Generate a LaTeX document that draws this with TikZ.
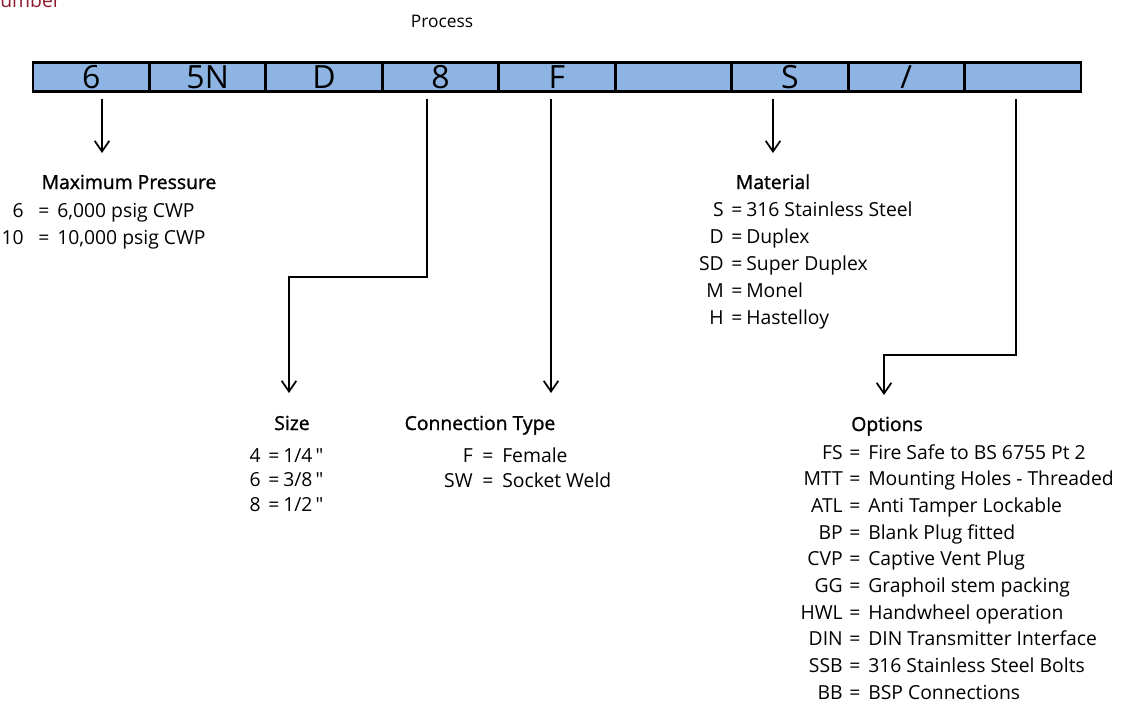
\documentclass[tikz,border=0pt]{standalone}
\usepackage{fontspec}
\setmainfont{Open Sans}
\newfontfamily\headfont[FakeBold=1.2]{Open Sans}
\newfontfamily\qfont{Open Sans}
\usetikzlibrary{arrows.meta}
\definecolor{barblue}{RGB}{141,180,226}
\definecolor{numred}{RGB}{139,26,46}
\newcommand\inch{{\qfont\char34}}
\begin{document}
\begin{tikzpicture}[x=0.75pt,y=-0.75pt,
  cell/.style={draw=black,line width=2.2pt,fill=barblue,minimum width=87.33pt,
    minimum height=21.75pt,inner sep=0pt,text height=17pt,text depth=0pt,
    font=\fontsize{24}{24}\selectfont},
  conn/.style={line width=1.3pt,-{Straight Barb[length=8pt,width=11pt]}},
  head/.style={inner sep=0pt,anchor=base,font=\fontsize{14.5}{17}\headfont},
  txt/.style={inner sep=0pt,font=\fontsize{14.5}{17}\selectfont},
  code/.style={txt,anchor=base east},
  eq/.style={txt,anchor=base},
  val/.style={txt,anchor=base west}]
\useasboundingbox (0,0) rectangle (1121,704);

% title fragments
\node[inner sep=0pt,anchor=base east,text=numred,font=\fontsize{14.5}{17}\selectfont] (number) at (61,7) {Number};
\node[inner sep=0pt,font=\fontsize{13}{15}\selectfont] (process) at (442,21) {Process};

% code bar
\foreach \t [count=\i] in {6,5N,D,8,F,{},S,/,{}}
  \node[cell] (c\i) at ({33+116.44*(\i-0.5)},77) {\t};

% headings (baselines)
\node[head] (hpress) at (129,189) {Maximum Pressure};
\node[head] (hmat) at (773,189) {Material};
\node[head] (hsize) at (292,430) {Size};
\node[head] (hconn) at (480,430) {Connection Type};
\node[head] (hopt) at (887,431) {Options};

% maximum pressure rows
\foreach \c/\v [count=\i] in {6/{6,000 psig CWP},10/{10,000 psig CWP}}{
  \node[code] (pc\i) at (24,{217+27*(\i-1)}) {\c};
  \node[eq] (pe\i) at (44,{217+27*(\i-1)}) {=};
  \node[val] (pv\i) at (57,{217+27*(\i-1)}) {\v};
}
% material rows
\foreach \c/\v [count=\i] in {S/316 Stainless Steel,D/Duplex,SD/Super Duplex,M/Monel,H\hspace{5.5pt}/Hastelloy}{
  \node[code] (mc\i) at (724,{216+27*(\i-1)}) {\c};
  \node[eq] (me\i) at (737,{216+27*(\i-1)}) {=};
  \node[val] (mv\i) at (746,{216+27*(\i-1)}) {\v};
}
% size rows
\foreach \c/\v [count=\i] in {4/{1/4\,\inch},6/{3/8\,\inch},8/{1/2\,\inch}}{
  \node[code] (sc\i) at (261,{462+24.5*(\i-1)}) {\c};
  \node[eq] (se\i) at (274,{462+24.5*(\i-1)}) {=};
  \node[val] (sv\i) at (283,{462+24.5*(\i-1)}) {\v};
}
% connection rows
\foreach \c/\v [count=\i] in {F/Female,SW/Socket Weld}{
  \node[code] (cc\i) at (473,{462+25*(\i-1)}) {\c};
  \node[eq] (ce\i) at (488,{462+25*(\i-1)}) {=};
  \node[val] (cv\i) at (502,{462+25*(\i-1)}) {\v};
}
% option rows
\foreach \c/\v [count=\i] in {FS/Fire Safe to BS 6755 Pt 2,MTT/Mounting Holes - Threaded,
  ATL/Anti Tamper Lockable,BP/Blank Plug fitted,CVP/Captive Vent Plug,
  GG/Graphoil stem packing,HWL/Handwheel operation,DIN/DIN Transmitter Interface,
  SSB/316 Stainless Steel Bolts,BB/BSP Connections}{
  \node[code] (oc\i) at (843,{459+26.67*(\i-1)}) {\c};
  \node[eq] (oe\i) at (855,{459+26.67*(\i-1)}) {=};
  \node[val] (ov\i) at (868,{459+26.67*(\i-1)}) {\v};
}

% connectors
\coordinate (a1s) at (102,99);  \coordinate (a1e) at (102,153);
\coordinate (a2s) at (427,99);  \coordinate (a2k) at (289,277); \coordinate (a2e) at (289,393);
\coordinate (a3s) at (551,99);  \coordinate (a3e) at (551,393);
\coordinate (a4s) at (773,99);  \coordinate (a4e) at (773,153);
\coordinate (a5s) at (1016,99); \coordinate (a5k) at (884,355); \coordinate (a5e) at (884,395);
\draw[conn] (a1s) -- (a1e);
\draw[conn] (a2s) |- (a2k) -- (a2e);
\draw[conn] (a3s) -- (a3e);
\draw[conn] (a4s) -- (a4e);
\draw[conn] (a5s) |- (a5k) -- (a5e);
\end{tikzpicture}
\end{document}
